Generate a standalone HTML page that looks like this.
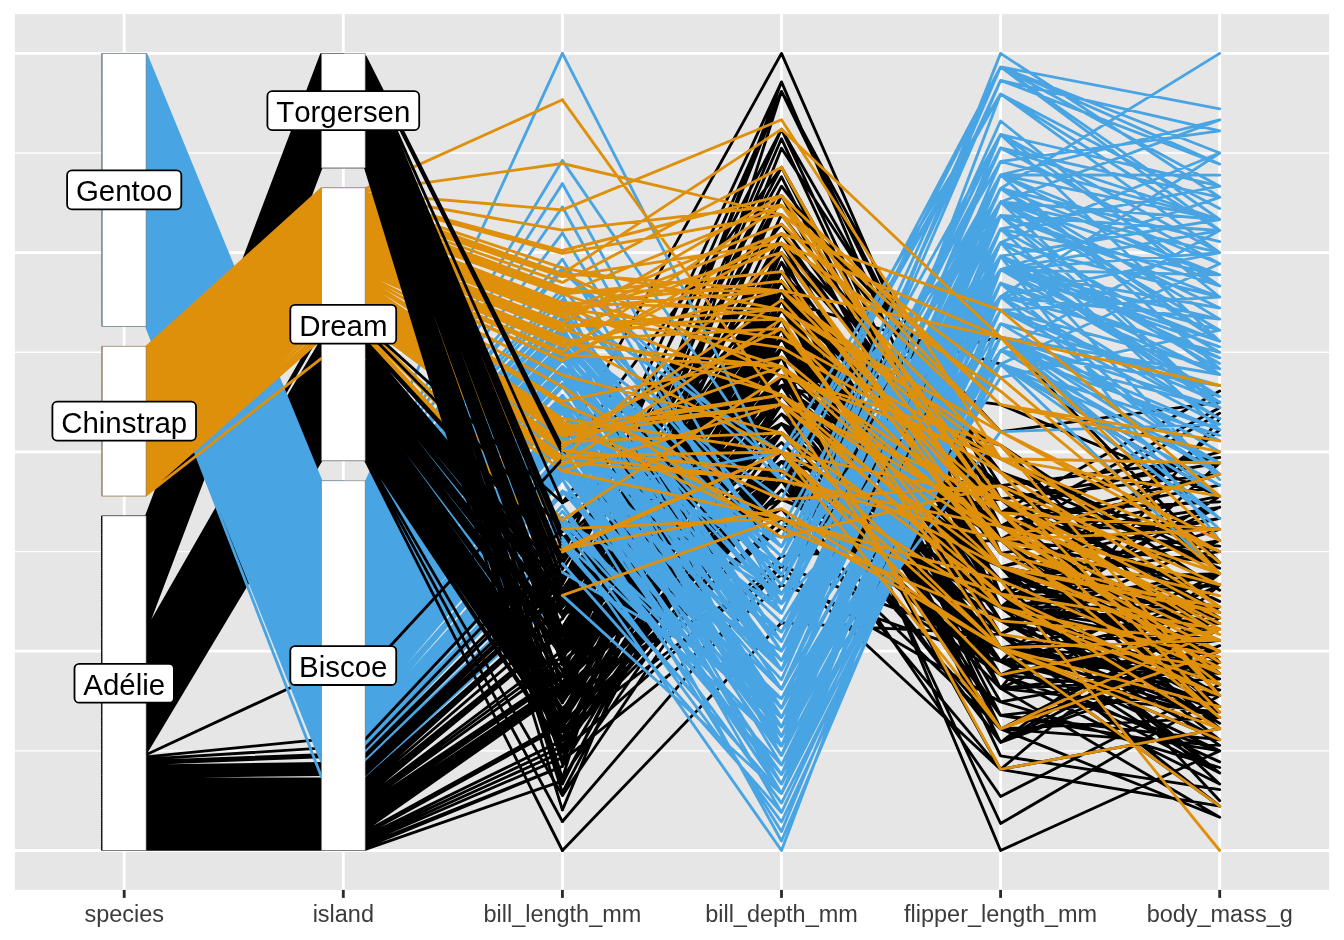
<!DOCTYPE html>
<html><head><meta charset="utf-8"><title>penguins pcp</title>
<style>html,body{margin:0;padding:0;background:#fff;}body{width:1344px;height:940px;overflow:hidden;font-family:"Liberation Sans",sans-serif;}svg{display:block;will-change:transform;}</style>
</head><body>
<svg width="1344" height="940" viewBox="0 0 1344 940">
<rect x="0" y="0" width="1344" height="940" fill="#fff"/>
<rect x="14.9" y="14.1" width="1314.2" height="875.8" fill="#E6E6E6"/>
<g stroke="#fff" fill="none"><path d="M14.9 750.9H1329.1" stroke-width="1.42"/><path d="M14.9 551.6H1329.1" stroke-width="1.42"/><path d="M14.9 352.3H1329.1" stroke-width="1.42"/><path d="M14.9 153H1329.1" stroke-width="1.42"/><path d="M14.9 850.5H1329.1" stroke-width="2.84"/><path d="M14.9 651.2H1329.1" stroke-width="2.84"/><path d="M14.9 451.9H1329.1" stroke-width="2.84"/><path d="M14.9 252.7H1329.1" stroke-width="2.84"/><path d="M14.9 53.4H1329.1" stroke-width="2.84"/><path d="M124.2 14.1V889.9" stroke-width="2.84"/><path d="M343.3 14.1V889.9" stroke-width="2.84"/><path d="M562.4 14.1V889.9" stroke-width="2.84"/><path d="M781.5 14.1V889.9" stroke-width="2.84"/><path d="M1000.6 14.1V889.9" stroke-width="2.84"/><path d="M1219.7 14.1V889.9" stroke-width="2.84"/></g>
<path fill="none" stroke="#000000" stroke-width="2.84" stroke-linecap="round" stroke-linejoin="round" d="M102.3 569.8H146.1L321.4 107.3H343.3M102.3 563.2H146.1L321.4 100.7H343.3M102.3 554.4H146.1L321.4 91.9H343.3M102.3 517H146.1L321.4 54.5H343.3M102.3 598.5H146.1L321.4 135.9H343.3M102.3 565.4H146.1L321.4 102.9H343.3M102.3 574.2H146.1L321.4 111.7H343.3M102.3 567.6H146.1L321.4 105.1H343.3M102.3 627.1H146.1L321.4 164.6H343.3M102.3 536.8H146.1L321.4 74.3H343.3M102.3 589.6H146.1L321.4 127.1H343.3M102.3 587.4H146.1L321.4 124.9H343.3M102.3 547.8H146.1L321.4 85.3H343.3M102.3 580.8H146.1L321.4 118.3H343.3M102.3 620.5H146.1L321.4 158H343.3M102.3 602.9H146.1L321.4 140.4H343.3M102.3 578.6H146.1L321.4 116.1H343.3M102.3 532.4H146.1L321.4 69.9H343.3M102.3 624.9H146.1L321.4 162.4H343.3M102.3 519.2H146.1L321.4 56.7H343.3M102.3 820.8H146.1L321.4 820.8H343.3M102.3 823H146.1L321.4 823H343.3M102.3 836.2H146.1L321.4 836.2H343.3M102.3 807.6H146.1L321.4 807.6H343.3M102.3 801H146.1L321.4 801H343.3M102.3 842.8H146.1L321.4 842.8H343.3M102.3 781.2H146.1L321.4 781.2H343.3M102.3 785.6H146.1L321.4 785.6H343.3M102.3 816.4H146.1L321.4 816.4H343.3M102.3 783.4H146.1L321.4 783.4H343.3M102.3 679.9H146.1L321.4 387H343.3M102.3 712.9H146.1L321.4 420H343.3M102.3 677.7H146.1L321.4 384.8H343.3M102.3 651.3H146.1L321.4 356.2H343.3M102.3 728.3H146.1L321.4 435.4H343.3M102.3 682.1H146.1L321.4 389.2H343.3M102.3 690.9H146.1L321.4 398H343.3M102.3 638.1H146.1L321.4 343H343.3M102.3 701.9H146.1L321.4 409H343.3M102.3 668.9H146.1L321.4 376H343.3M102.3 726.1H146.1L321.4 433.2H343.3M102.3 655.7H146.1L321.4 362.8H343.3M102.3 734.9H146.1L321.4 442H343.3M102.3 631.5H146.1L321.4 325.4H343.3M102.3 715.1H146.1L321.4 422.2H343.3M102.3 673.3H146.1L321.4 380.4H343.3M102.3 644.7H146.1L321.4 349.6H343.3M102.3 704.1H146.1L321.4 411.2H343.3M102.3 737.1H146.1L321.4 444.2H343.3M102.3 635.9H146.1L321.4 340.8H343.3M102.3 796.6H146.1L321.4 796.6H343.3M102.3 787.8H146.1L321.4 787.8H343.3M102.3 847.2H146.1L321.4 847.2H343.3M102.3 763.5H146.1L321.4 756.9H343.3M102.3 849.4H146.1L321.4 849.4H343.3M102.3 768H146.1L321.4 765.8H343.3M102.3 798.8H146.1L321.4 798.8H343.3M102.3 779H146.1L321.4 779H343.3M102.3 831.8H146.1L321.4 831.8H343.3M102.3 827.4H146.1L321.4 827.4H343.3M102.3 838.4H146.1L321.4 838.4H343.3M102.3 770.2H146.1L321.4 768H343.3M102.3 829.6H146.1L321.4 829.6H343.3M102.3 774.6H146.1L321.4 772.4H343.3M102.3 834H146.1L321.4 834H343.3M102.3 765.8H146.1L321.4 763.5H343.3M102.3 840.6H146.1L321.4 840.6H343.3M102.3 772.4H146.1L321.4 770.2H343.3M102.3 609.5H146.1L321.4 147H343.3M102.3 539H146.1L321.4 76.5H343.3M102.3 629.3H146.1L321.4 166.8H343.3M102.3 558.8H146.1L321.4 96.3H343.3M102.3 561H146.1L321.4 98.5H343.3M102.3 521.4H146.1L321.4 58.9H343.3M102.3 613.9H146.1L321.4 151.4H343.3M102.3 530.2H146.1L321.4 67.7H343.3M102.3 550H146.1L321.4 87.5H343.3M102.3 596.3H146.1L321.4 133.7H343.3M102.3 607.3H146.1L321.4 144.8H343.3M102.3 534.6H146.1L321.4 72.1H343.3M102.3 622.7H146.1L321.4 160.2H343.3M102.3 528H146.1L321.4 65.5H343.3M102.3 600.7H146.1L321.4 138.1H343.3M102.3 618.3H146.1L321.4 155.8H343.3M102.3 708.5H146.1L321.4 415.6H343.3M102.3 642.5H146.1L321.4 347.4H343.3M102.3 730.5H146.1L321.4 437.6H343.3M102.3 719.5H146.1L321.4 426.6H343.3M102.3 693.1H146.1L321.4 400.2H343.3M102.3 688.7H146.1L321.4 395.8H343.3M102.3 743.7H146.1L321.4 450.8H343.3M102.3 646.9H146.1L321.4 351.8H343.3M102.3 748.1H146.1L321.4 455.3H343.3M102.3 675.5H146.1L321.4 382.6H343.3M102.3 732.7H146.1L321.4 439.8H343.3M102.3 653.5H146.1L321.4 360.6H343.3M102.3 695.3H146.1L321.4 402.4H343.3M102.3 662.3H146.1L321.4 369.4H343.3M102.3 750.3H146.1L321.4 457.5H343.3M102.3 633.7H146.1L321.4 329.8H343.3M102.3 845H146.1L321.4 845H343.3M102.3 776.8H146.1L321.4 774.6H343.3M102.3 825.2H146.1L321.4 825.2H343.3M102.3 818.6H146.1L321.4 818.6H343.3M102.3 814.2H146.1L321.4 814.2H343.3M102.3 790H146.1L321.4 790H343.3M102.3 803.2H146.1L321.4 803.2H343.3M102.3 805.4H146.1L321.4 805.4H343.3M102.3 809.8H146.1L321.4 809.8H343.3M102.3 756.9H146.1L321.4 739.3H343.3M102.3 812H146.1L321.4 812H343.3M102.3 754.7H146.1L321.4 673.3H343.3M102.3 792.2H146.1L321.4 792.2H343.3M102.3 761.3H146.1L321.4 754.7H343.3M102.3 794.4H146.1L321.4 794.4H343.3M102.3 759.1H146.1L321.4 748.1H343.3M102.3 583H146.1L321.4 120.5H343.3M102.3 594H146.1L321.4 131.5H343.3M102.3 611.7H146.1L321.4 149.2H343.3M102.3 545.6H146.1L321.4 83.1H343.3M102.3 605.1H146.1L321.4 142.6H343.3M102.3 591.8H146.1L321.4 129.3H343.3M102.3 556.6H146.1L321.4 94.1H343.3M102.3 543.4H146.1L321.4 80.9H343.3M102.3 616.1H146.1L321.4 153.6H343.3M102.3 552.2H146.1L321.4 89.7H343.3M102.3 576.4H146.1L321.4 113.9H343.3M102.3 541.2H146.1L321.4 78.7H343.3M102.3 572H146.1L321.4 109.5H343.3M102.3 523.6H146.1L321.4 61.1H343.3M102.3 585.2H146.1L321.4 122.7H343.3M102.3 525.8H146.1L321.4 63.3H343.3M102.3 721.7H146.1L321.4 428.8H343.3M102.3 706.3H146.1L321.4 413.4H343.3M102.3 697.5H146.1L321.4 404.6H343.3M102.3 649.1H146.1L321.4 354H343.3M102.3 745.9H146.1L321.4 453.1H343.3M102.3 664.5H146.1L321.4 371.6H343.3M102.3 717.3H146.1L321.4 424.4H343.3M102.3 671.1H146.1L321.4 378.2H343.3M102.3 666.7H146.1L321.4 373.8H343.3M102.3 660.1H146.1L321.4 367.2H343.3M102.3 752.5H146.1L321.4 459.7H343.3M102.3 657.9H146.1L321.4 365H343.3M102.3 710.7H146.1L321.4 417.8H343.3M102.3 686.5H146.1L321.4 393.6H343.3M102.3 684.3H146.1L321.4 391.4H343.3M102.3 723.9H146.1L321.4 431H343.3M102.3 739.3H146.1L321.4 446.4H343.3M102.3 699.7H146.1L321.4 406.8H343.3M102.3 741.5H146.1L321.4 448.6H343.3M102.3 640.3H146.1L321.4 345.2H343.3"/>
<path fill="none" stroke="#48A4E3" stroke-width="2.84" stroke-linecap="round" stroke-linejoin="round" d="M102.3 237.2H146.1L321.4 664.5H343.3M102.3 105.1H146.1L321.4 532.4H343.3M102.3 151.4H146.1L321.4 578.6H343.3M102.3 111.7H146.1L321.4 539H343.3M102.3 177.8H146.1L321.4 605.1H343.3M102.3 217.4H146.1L321.4 644.7H343.3M102.3 254.8H146.1L321.4 684.3H343.3M102.3 206.4H146.1L321.4 633.7H343.3M102.3 307.6H146.1L321.4 737.1H343.3M102.3 202H146.1L321.4 629.3H343.3M102.3 325.3H146.1L321.4 776.8H343.3M102.3 142.6H146.1L321.4 569.8H343.3M102.3 252.6H146.1L321.4 682.1H343.3M102.3 162.4H146.1L321.4 589.6H343.3M102.3 239.4H146.1L321.4 666.7H343.3M102.3 131.5H146.1L321.4 558.8H343.3M102.3 320.9H146.1L321.4 759.1H343.3M102.3 133.7H146.1L321.4 561H343.3M102.3 228.4H146.1L321.4 655.7H343.3M102.3 149.2H146.1L321.4 576.4H343.3M102.3 100.7H146.1L321.4 528H343.3M102.3 270.2H146.1L321.4 699.7H343.3M102.3 213H146.1L321.4 640.3H343.3M102.3 224H146.1L321.4 651.3H343.3M102.3 312.1H146.1L321.4 743.7H343.3M102.3 235H146.1L321.4 662.3H343.3M102.3 287.8H146.1L321.4 717.3H343.3M102.3 173.4H146.1L321.4 600.7H343.3M102.3 169H146.1L321.4 596.3H343.3M102.3 109.5H146.1L321.4 536.8H343.3M102.3 188.8H146.1L321.4 616.1H343.3M102.3 314.3H146.1L321.4 745.9H343.3M102.3 272.4H146.1L321.4 701.9H343.3M102.3 56.7H146.1L321.4 484H343.3M102.3 138.1H146.1L321.4 565.4H343.3M102.3 160.2H146.1L321.4 587.4H343.3M102.3 318.7H146.1L321.4 752.5H343.3M102.3 290H146.1L321.4 719.5H343.3M102.3 292.2H146.1L321.4 721.7H343.3M102.3 147H146.1L321.4 574.2H343.3M102.3 316.5H146.1L321.4 750.3H343.3M102.3 120.5H146.1L321.4 547.8H343.3M102.3 259.2H146.1L321.4 688.7H343.3M102.3 122.7H146.1L321.4 550H343.3M102.3 91.9H146.1L321.4 519.2H343.3M102.3 296.6H146.1L321.4 726.1H343.3M102.3 250.4H146.1L321.4 679.9H343.3M102.3 89.7H146.1L321.4 517H343.3M102.3 281.2H146.1L321.4 710.7H343.3M102.3 263.6H146.1L321.4 693.1H343.3M102.3 208.6H146.1L321.4 635.9H343.3M102.3 158H146.1L321.4 585.2H343.3M102.3 274.6H146.1L321.4 704.1H343.3M102.3 102.9H146.1L321.4 530.2H343.3M102.3 215.2H146.1L321.4 642.5H343.3M102.3 276.8H146.1L321.4 706.3H343.3M102.3 294.4H146.1L321.4 723.9H343.3M102.3 246H146.1L321.4 675.5H343.3M102.3 309.9H146.1L321.4 741.5H343.3M102.3 98.5H146.1L321.4 525.8H343.3M102.3 257H146.1L321.4 686.5H343.3M102.3 226.2H146.1L321.4 653.5H343.3M102.3 243.8H146.1L321.4 671.1H343.3M102.3 63.3H146.1L321.4 490.6H343.3M102.3 241.6H146.1L321.4 668.9H343.3M102.3 116.1H146.1L321.4 543.4H343.3M102.3 230.6H146.1L321.4 657.9H343.3M102.3 124.9H146.1L321.4 552.2H343.3M102.3 301H146.1L321.4 730.5H343.3M102.3 87.5H146.1L321.4 514.8H343.3M102.3 175.6H146.1L321.4 602.9H343.3M102.3 219.6H146.1L321.4 646.9H343.3M102.3 166.8H146.1L321.4 594H343.3M102.3 210.8H146.1L321.4 638.1H343.3M102.3 221.8H146.1L321.4 649.1H343.3M102.3 153.6H146.1L321.4 580.8H343.3M102.3 182.2H146.1L321.4 609.5H343.3M102.3 80.9H146.1L321.4 508.2H343.3M102.3 268H146.1L321.4 697.5H343.3M102.3 261.4H146.1L321.4 690.9H343.3M102.3 140.4H146.1L321.4 567.6H343.3M102.3 67.7H146.1L321.4 495H343.3M102.3 186.6H146.1L321.4 613.9H343.3M102.3 107.3H146.1L321.4 534.6H343.3M102.3 279H146.1L321.4 708.5H343.3M102.3 83.1H146.1L321.4 510.4H343.3M102.3 303.2H146.1L321.4 732.7H343.3M102.3 76.5H146.1L321.4 503.8H343.3M102.3 184.4H146.1L321.4 611.7H343.3M102.3 72.1H146.1L321.4 499.4H343.3M102.3 180H146.1L321.4 607.3H343.3M102.3 69.9H146.1L321.4 497.2H343.3M102.3 248.2H146.1L321.4 677.7H343.3M102.3 127.1H146.1L321.4 554.4H343.3M102.3 285.6H146.1L321.4 715.1H343.3M102.3 85.3H146.1L321.4 512.6H343.3M102.3 129.3H146.1L321.4 556.6H343.3M102.3 197.6H146.1L321.4 624.9H343.3M102.3 164.6H146.1L321.4 591.8H343.3M102.3 78.7H146.1L321.4 506H343.3M102.3 155.8H146.1L321.4 583H343.3M102.3 58.9H146.1L321.4 486.2H343.3M102.3 193.2H146.1L321.4 620.5H343.3M102.3 135.9H146.1L321.4 563.2H343.3M102.3 191H146.1L321.4 618.3H343.3M102.3 199.8H146.1L321.4 627.1H343.3M102.3 323.1H146.1L321.4 761.3H343.3M102.3 65.5H146.1L321.4 492.8H343.3M102.3 305.4H146.1L321.4 734.9H343.3M102.3 171.2H146.1L321.4 598.5H343.3M102.3 94.1H146.1L321.4 521.4H343.3M102.3 118.3H146.1L321.4 545.6H343.3M102.3 298.8H146.1L321.4 728.3H343.3M102.3 74.3H146.1L321.4 501.6H343.3M102.3 232.8H146.1L321.4 660.1H343.3M102.3 61.1H146.1L321.4 488.4H343.3M102.3 283.4H146.1L321.4 712.9H343.3M102.3 144.8H146.1L321.4 572H343.3M102.3 195.4H146.1L321.4 622.7H343.3M102.3 54.5H146.1L321.4 481.8H343.3M102.3 204.2H146.1L321.4 631.5H343.3M102.3 96.3H146.1L321.4 523.6H343.3M102.3 265.8H146.1L321.4 695.3H343.3M102.3 113.9H146.1L321.4 541.2H343.3"/>
<path fill="none" stroke="#DF900A" stroke-width="2.84" stroke-linecap="round" stroke-linejoin="round" d="M102.3 453.1H146.1L321.4 294.6H343.3M102.3 413.4H146.1L321.4 254.9H343.3M102.3 380.4H146.1L321.4 221.9H343.3M102.3 477.3H146.1L321.4 318.8H343.3M102.3 358.4H146.1L321.4 199.9H343.3M102.3 479.5H146.1L321.4 321H343.3M102.3 461.9H146.1L321.4 303.4H343.3M102.3 382.6H146.1L321.4 224.1H343.3M102.3 464.1H146.1L321.4 305.6H343.3M102.3 378.2H146.1L321.4 219.7H343.3M102.3 450.8H146.1L321.4 292.4H343.3M102.3 371.6H146.1L321.4 213.1H343.3M102.3 442H146.1L321.4 283.6H343.3M102.3 367.2H146.1L321.4 208.7H343.3M102.3 466.3H146.1L321.4 307.8H343.3M102.3 400.2H146.1L321.4 241.7H343.3M102.3 404.6H146.1L321.4 246.1H343.3M102.3 347.4H146.1L321.4 188.9H343.3M102.3 455.3H146.1L321.4 296.8H343.3M102.3 426.6H146.1L321.4 268.1H343.3M102.3 492.7H146.1L321.4 338.6H343.3M102.3 433.2H146.1L321.4 274.7H343.3M102.3 486.1H146.1L321.4 332H343.3M102.3 398H146.1L321.4 239.5H343.3M102.3 448.6H146.1L321.4 290.2H343.3M102.3 365H146.1L321.4 206.5H343.3M102.3 402.4H146.1L321.4 243.9H343.3M102.3 422.2H146.1L321.4 263.7H343.3M102.3 457.5H146.1L321.4 299H343.3M102.3 356.2H146.1L321.4 197.7H343.3M102.3 494.9H146.1L321.4 358.4H343.3M102.3 351.8H146.1L321.4 193.3H343.3M102.3 490.5H146.1L321.4 336.4H343.3M102.3 384.8H146.1L321.4 226.3H343.3M102.3 417.8H146.1L321.4 259.3H343.3M102.3 439.8H146.1L321.4 281.3H343.3M102.3 437.6H146.1L321.4 279.1H343.3M102.3 362.8H146.1L321.4 204.3H343.3M102.3 444.2H146.1L321.4 285.8H343.3M102.3 354H146.1L321.4 195.5H343.3M102.3 431H146.1L321.4 272.5H343.3M102.3 459.7H146.1L321.4 301.2H343.3M102.3 387H146.1L321.4 228.5H343.3M102.3 475.1H146.1L321.4 316.6H343.3M102.3 389.2H146.1L321.4 230.7H343.3M102.3 393.6H146.1L321.4 235.1H343.3M102.3 411.2H146.1L321.4 252.7H343.3M102.3 428.8H146.1L321.4 270.3H343.3M102.3 373.8H146.1L321.4 215.3H343.3M102.3 415.6H146.1L321.4 257.1H343.3M102.3 435.4H146.1L321.4 276.9H343.3M102.3 376H146.1L321.4 217.5H343.3M102.3 468.5H146.1L321.4 310H343.3M102.3 395.8H146.1L321.4 237.3H343.3M102.3 488.3H146.1L321.4 334.2H343.3M102.3 360.6H146.1L321.4 202.1H343.3M102.3 481.7H146.1L321.4 323.2H343.3M102.3 424.4H146.1L321.4 265.9H343.3M102.3 406.8H146.1L321.4 248.3H343.3M102.3 472.9H146.1L321.4 314.4H343.3M102.3 369.4H146.1L321.4 210.9H343.3M102.3 446.4H146.1L321.4 288H343.3M102.3 470.7H146.1L321.4 312.2H343.3M102.3 349.6H146.1L321.4 191.1H343.3M102.3 483.9H146.1L321.4 327.6H343.3M102.3 420H146.1L321.4 261.5H343.3M102.3 391.4H146.1L321.4 232.9H343.3M102.3 409H146.1L321.4 250.5H343.3"/>
<path fill="none" stroke="#48A4E3" stroke-width="2.84" stroke-linecap="round" stroke-linejoin="round" d="M343.3 664.5H365.2L562.4 444.7M343.3 532.4H365.2L562.4 331.7M343.3 578.6H365.2L562.4 369.3M343.3 539H365.2L562.4 331.7M343.3 605.1H365.2L562.4 401.2M343.3 644.7H365.2L562.4 433.1M343.3 684.3H365.2L562.4 465M343.3 633.7H365.2L562.4 427.3M343.3 737.1H365.2L562.4 525.9M343.3 629.3H365.2L562.4 424.4M343.3 776.8H365.2L562.4 595.4M343.3 569.8H365.2L562.4 360.6M343.3 682.1H365.2L562.4 462.1M343.3 589.6H365.2L562.4 378M343.3 666.7H365.2L562.4 453.4M343.3 558.8H365.2L562.4 352M343.3 759.1H365.2L562.4 563.5M343.3 561H365.2L562.4 354.8M343.3 655.7H365.2L562.4 441.8M343.3 576.4H365.2L562.4 369.3M343.3 528H365.2L562.4 325.9M343.3 699.7H365.2L562.4 473.7M343.3 640.3H365.2L562.4 433.1M343.3 651.3H365.2L562.4 438.9M343.3 743.7H365.2L562.4 537.5M343.3 662.3H365.2L562.4 444.7M343.3 717.3H365.2L562.4 491.1M343.3 600.7H365.2L562.4 395.4M343.3 596.3H365.2L562.4 383.8M343.3 536.8H365.2L562.4 331.7M343.3 616.1H365.2L562.4 409.9M343.3 745.9H365.2L562.4 540.4M343.3 701.9H365.2L562.4 473.7M343.3 484H365.2L562.4 53.4M343.3 565.4H365.2L562.4 357.7M343.3 587.4H365.2L562.4 378M343.3 752.5H365.2L562.4 546.2M343.3 719.5H365.2L562.4 494M343.3 721.7H365.2L562.4 505.6M343.3 574.2H365.2L562.4 369.3M343.3 750.3H365.2L562.4 543.3M343.3 547.8H365.2L562.4 343.3M343.3 688.7H365.2L562.4 467.9M343.3 550H365.2L562.4 343.3M343.3 519.2H365.2L562.4 317.2M343.3 726.1H365.2L562.4 517.2M343.3 679.9H365.2L562.4 462.1M343.3 517H365.2L562.4 317.2M343.3 710.7H365.2L562.4 479.5M343.3 693.1H365.2L562.4 470.8M343.3 635.9H365.2L562.4 430.2M343.3 585.2H365.2L562.4 375.1M343.3 704.1H365.2L562.4 473.7M343.3 530.2H365.2L562.4 328.8M343.3 642.5H365.2L562.4 433.1M343.3 706.3H365.2L562.4 476.6M343.3 723.9H365.2L562.4 511.4M343.3 675.5H365.2L562.4 462.1M343.3 741.5H365.2L562.4 528.8M343.3 525.8H365.2L562.4 320.1M343.3 686.5H365.2L562.4 467.9M343.3 653.5H365.2L562.4 441.8M343.3 671.1H365.2L562.4 456.3M343.3 490.6H365.2L562.4 207M343.3 668.9H365.2L562.4 453.4M343.3 543.4H365.2L562.4 337.5M343.3 657.9H365.2L562.4 441.8M343.3 552.2H365.2L562.4 346.2M343.3 730.5H365.2L562.4 520.1M343.3 514.8H365.2L562.4 311.4M343.3 602.9H365.2L562.4 398.3M343.3 646.9H365.2L562.4 436M343.3 594H365.2L562.4 383.8M343.3 638.1H365.2L562.4 433.1M343.3 649.1H365.2L562.4 436M343.3 580.8H365.2L562.4 372.2M343.3 609.5H365.2L562.4 404.1M343.3 508.2H365.2L562.4 299.8M343.3 697.5H365.2L562.4 470.8M343.3 690.9H365.2L562.4 470.8M343.3 567.6H365.2L562.4 357.7M343.3 495H365.2L562.4 259.2M343.3 613.9H365.2L562.4 407M343.3 534.6H365.2L562.4 331.7M343.3 708.5H365.2L562.4 479.5M343.3 510.4H365.2L562.4 308.5M343.3 732.7H365.2L562.4 523M343.3 503.8H365.2L562.4 294M343.3 611.7H365.2L562.4 404.1M343.3 499.4H365.2L562.4 270.8M343.3 607.3H365.2L562.4 404.1M343.3 497.2H365.2L562.4 267.9M343.3 677.7H365.2L562.4 462.1M343.3 554.4H365.2L562.4 346.2M343.3 715.1H365.2L562.4 491.1M343.3 512.6H365.2L562.4 308.5M343.3 556.6H365.2L562.4 349.1M343.3 624.9H365.2L562.4 421.5M343.3 591.8H365.2L562.4 378M343.3 506H365.2L562.4 299.8M343.3 583H365.2L562.4 375.1M343.3 486.2H365.2L562.4 160.6M343.3 620.5H365.2L562.4 412.8M343.3 563.2H365.2L562.4 357.7M343.3 618.3H365.2L562.4 409.9M343.3 627.1H365.2L562.4 424.4M343.3 761.3H365.2L562.4 572.2M343.3 492.8H365.2L562.4 233.1M343.3 734.9H365.2L562.4 525.9M343.3 598.5H365.2L562.4 386.7M343.3 521.4H365.2L562.4 317.2M343.3 545.6H365.2L562.4 337.5M343.3 728.3H365.2L562.4 520.1M343.3 501.6H365.2L562.4 288.2M343.3 660.1H365.2L562.4 441.8M343.3 488.4H365.2L562.4 183.8M343.3 712.9H365.2L562.4 491.1M343.3 572H365.2L562.4 366.4M343.3 622.7H365.2L562.4 412.8M343.3 631.5H365.2L562.4 424.4M343.3 523.6H365.2L562.4 320.1M343.3 695.3H365.2L562.4 470.8M343.3 541.2H365.2L562.4 334.6"/>
<path fill="none" stroke="#DF900A" stroke-width="2.84" stroke-linecap="round" stroke-linejoin="round" d="M343.3 294.6H365.2L562.4 433.1M343.3 254.9H365.2L562.4 331.7M343.3 221.9H365.2L562.4 294M343.3 318.8H365.2L562.4 465M343.3 199.9H365.2L562.4 253.4M343.3 321H365.2L562.4 470.8M343.3 303.4H365.2L562.4 444.7M343.3 224.1H365.2L562.4 294M343.3 305.6H365.2L562.4 447.6M343.3 219.7H365.2L562.4 294M343.3 292.4H365.2L562.4 430.2M343.3 213.1H365.2L562.4 282.4M343.3 283.6H365.2L562.4 418.6M343.3 208.7H365.2L562.4 273.7M343.3 307.8H365.2L562.4 450.5M343.3 241.7H365.2L562.4 317.2M343.3 246.1H365.2L562.4 323M343.3 188.9H365.2L562.4 99.8M343.3 296.8H365.2L562.4 436M343.3 268.1H365.2L562.4 354.8M343.3 338.6H365.2L562.4 551.9M343.3 274.7H365.2L562.4 375.1M343.3 332H365.2L562.4 528.8M343.3 239.5H365.2L562.4 314.3M343.3 290.2H365.2L562.4 427.3M343.3 206.5H365.2L562.4 273.7M343.3 243.9H365.2L562.4 317.2M343.3 263.7H365.2L562.4 346.2M343.3 299H365.2L562.4 436M343.3 197.7H365.2L562.4 250.5M343.3 358.4H365.2L562.4 595.4M343.3 193.3H365.2L562.4 209.9M343.3 336.4H365.2L562.4 549.1M343.3 226.3H365.2L562.4 302.7M343.3 259.3H365.2L562.4 340.4M343.3 281.3H365.2L562.4 404.1M343.3 279.1H365.2L562.4 401.2M343.3 204.3H365.2L562.4 273.7M343.3 285.8H365.2L562.4 421.5M343.3 195.5H365.2L562.4 230.2M343.3 272.5H365.2L562.4 360.6M343.3 301.2H365.2L562.4 441.8M343.3 228.5H365.2L562.4 305.6M343.3 316.6H365.2L562.4 462.1M343.3 230.7H365.2L562.4 305.6M343.3 235.1H365.2L562.4 308.5M343.3 252.7H365.2L562.4 328.8M343.3 270.3H365.2L562.4 360.6M343.3 215.3H365.2L562.4 288.2M343.3 257.1H365.2L562.4 337.5M343.3 276.9H365.2L562.4 386.7M343.3 217.5H365.2L562.4 291.1M343.3 310H365.2L562.4 456.3M343.3 237.3H365.2L562.4 311.4M343.3 334.2H365.2L562.4 549.1M343.3 202.1H365.2L562.4 267.9M343.3 323.2H365.2L562.4 470.8M343.3 265.9H365.2L562.4 352M343.3 248.3H365.2L562.4 325.9M343.3 314.4H365.2L562.4 459.2M343.3 210.9H365.2L562.4 276.6M343.3 288H365.2L562.4 424.4M343.3 312.2H365.2L562.4 456.3M343.3 191.1H365.2L562.4 163.5M343.3 327.6H365.2L562.4 520.1M343.3 261.5H365.2L562.4 343.3M343.3 232.9H365.2L562.4 308.5M343.3 250.5H365.2L562.4 325.9"/>
<path fill="none" stroke="#000000" stroke-width="2.84" stroke-linecap="round" stroke-linejoin="round" d="M343.3 387H365.2L562.4 636M343.3 420H365.2L562.4 702.7M343.3 384.8H365.2L562.4 636M343.3 356.2H365.2L562.4 595.4M343.3 435.4H365.2L562.4 725.9M343.3 389.2H365.2L562.4 644.7M343.3 398H365.2L562.4 656.3M343.3 343H365.2L562.4 557.7M343.3 409H365.2L562.4 691.1M343.3 376H365.2L562.4 627.3M343.3 433.2H365.2L562.4 723M343.3 362.8H365.2L562.4 598.3M343.3 442H365.2L562.4 737.5M343.3 325.4H365.2L562.4 502.7M343.3 422.2H365.2L562.4 708.5M343.3 380.4H365.2L562.4 633.1M343.3 349.6H365.2L562.4 589.6M343.3 411.2H365.2L562.4 694M343.3 444.2H365.2L562.4 737.5M343.3 340.8H365.2L562.4 554.8M343.3 415.6H365.2L562.4 699.8M343.3 347.4H365.2L562.4 583.8M343.3 437.6H365.2L562.4 728.8M343.3 426.6H365.2L562.4 711.4M343.3 400.2H365.2L562.4 670.8M343.3 395.8H365.2L562.4 653.4M343.3 450.8H365.2L562.4 746.2M343.3 351.8H365.2L562.4 589.6M343.3 455.3H365.2L562.4 795.4M343.3 382.6H365.2L562.4 633.1M343.3 439.8H365.2L562.4 731.7M343.3 360.6H365.2L562.4 598.3M343.3 402.4H365.2L562.4 676.6M343.3 369.4H365.2L562.4 612.8M343.3 457.5H365.2L562.4 821.5M343.3 329.8H365.2L562.4 528.8M343.3 428.8H365.2L562.4 714.3M343.3 413.4H365.2L562.4 694M343.3 404.6H365.2L562.4 676.6M343.3 354H365.2L562.4 589.6M343.3 453.1H365.2L562.4 749.1M343.3 371.6H365.2L562.4 615.7M343.3 424.4H365.2L562.4 708.5M343.3 378.2H365.2L562.4 630.2M343.3 373.8H365.2L562.4 615.7M343.3 367.2H365.2L562.4 604.1M343.3 459.7H365.2L562.4 850.5M343.3 365H365.2L562.4 601.2M343.3 417.8H365.2L562.4 699.8M343.3 393.6H365.2L562.4 650.5M343.3 391.4H365.2L562.4 644.7M343.3 431H365.2L562.4 720.1M343.3 446.4H365.2L562.4 737.5M343.3 406.8H365.2L562.4 685.3M343.3 448.6H365.2L562.4 737.5M343.3 345.2H365.2L562.4 578"/>
<path fill="none" stroke="#000000" stroke-width="2.84" stroke-linecap="round" stroke-linejoin="round" d="M343.3 107.3H365.2L562.4 647.6M343.3 100.7H365.2L562.4 636M343.3 91.9H365.2L562.4 612.8M343.3 135.9H365.2L562.4 717.2M343.3 102.9H365.2L562.4 641.8M343.3 111.7H365.2L562.4 653.4M343.3 105.1H365.2L562.4 644.7M343.3 164.6H365.2L562.4 792.5M343.3 74.3H365.2L562.4 563.5M343.3 127.1H365.2L562.4 685.3M343.3 124.9H365.2L562.4 685.3M343.3 85.3H365.2L562.4 589.6M343.3 118.3H365.2L562.4 662.1M343.3 158H365.2L562.4 778M343.3 140.4H365.2L562.4 720.1M343.3 116.1H365.2L562.4 659.2M343.3 69.9H365.2L562.4 549.1M343.3 162.4H365.2L562.4 783.8M343.3 56.7H365.2L562.4 447.6M343.3 147H365.2L562.4 740.4M343.3 76.5H365.2L562.4 569.3M343.3 166.8H365.2L562.4 809.9M343.3 96.3H365.2L562.4 630.2M343.3 98.5H365.2L562.4 633.1M343.3 58.9H365.2L562.4 453.4M343.3 151.4H365.2L562.4 751.9M343.3 67.7H365.2L562.4 540.4M343.3 87.5H365.2L562.4 595.4M343.3 133.7H365.2L562.4 702.7M343.3 144.8H365.2L562.4 731.7M343.3 72.1H365.2L562.4 560.6M343.3 160.2H365.2L562.4 778M343.3 65.5H365.2L562.4 537.5M343.3 138.1H365.2L562.4 717.2M343.3 155.8H365.2L562.4 763.5M343.3 120.5H365.2L562.4 662.1M343.3 131.5H365.2L562.4 699.8M343.3 149.2H365.2L562.4 746.2M343.3 83.1H365.2L562.4 589.6M343.3 142.6H365.2L562.4 731.7M343.3 129.3H365.2L562.4 688.2M343.3 94.1H365.2L562.4 615.7M343.3 80.9H365.2L562.4 580.9M343.3 153.6H365.2L562.4 760.6M343.3 89.7H365.2L562.4 604.1M343.3 113.9H365.2L562.4 656.3M343.3 78.7H365.2L562.4 578M343.3 109.5H365.2L562.4 650.5M343.3 61.1H365.2L562.4 502.7M343.3 122.7H365.2L562.4 665M343.3 63.3H365.2L562.4 531.7"/>
<path fill="none" stroke="#000000" stroke-width="2.84" stroke-linecap="round" stroke-linejoin="round" d="M343.3 820.8H365.2L562.4 685.3M343.3 823H365.2L562.4 688.2M343.3 836.2H365.2L562.4 740.4M343.3 807.6H365.2L562.4 673.7M343.3 801H365.2L562.4 656.3M343.3 842.8H365.2L562.4 757.7M343.3 781.2H365.2L562.4 604.1M343.3 785.6H365.2L562.4 607M343.3 816.4H365.2L562.4 682.4M343.3 783.4H365.2L562.4 607M343.3 796.6H365.2L562.4 633.1M343.3 787.8H365.2L562.4 618.6M343.3 847.2H365.2L562.4 766.4M343.3 756.9H365.2L562.4 563.5M343.3 849.4H365.2L562.4 780.9M343.3 765.8H365.2L562.4 580.9M343.3 798.8H365.2L562.4 650.5M343.3 779H365.2L562.4 604.1M343.3 831.8H365.2L562.4 723M343.3 827.4H365.2L562.4 691.1M343.3 838.4H365.2L562.4 746.2M343.3 768H365.2L562.4 583.8M343.3 829.6H365.2L562.4 691.1M343.3 772.4H365.2L562.4 589.6M343.3 834H365.2L562.4 725.9M343.3 763.5H365.2L562.4 575.1M343.3 840.6H365.2L562.4 751.9M343.3 770.2H365.2L562.4 589.6M343.3 845H365.2L562.4 766.4M343.3 774.6H365.2L562.4 592.5M343.3 825.2H365.2L562.4 688.2M343.3 818.6H365.2L562.4 685.3M343.3 814.2H365.2L562.4 682.4M343.3 790H365.2L562.4 630.2M343.3 803.2H365.2L562.4 662.1M343.3 805.4H365.2L562.4 673.7M343.3 809.8H365.2L562.4 676.6M343.3 739.3H365.2L562.4 528.8M343.3 812H365.2L562.4 676.6M343.3 673.3H365.2L562.4 459.2M343.3 792.2H365.2L562.4 630.2M343.3 754.7H365.2L562.4 557.7M343.3 794.4H365.2L562.4 633.1M343.3 748.1H365.2L562.4 543.3"/>
<path fill="none" stroke="#000000" stroke-width="2.84" stroke-linecap="round" stroke-linejoin="round" d="M562.4 647.6L781.5 319.1L1000.6 728.9L1219.7 618M562.4 636L781.5 442.5L1000.6 661.4L1219.7 606.9M562.4 612.8L781.5 385.5L1000.6 539.8L1219.7 728.7M562.4 717.2L781.5 262.2L1000.6 566.8L1219.7 684.4M562.4 641.8L781.5 138.8L1000.6 607.3L1219.7 640.2M562.4 653.4L781.5 404.5L1000.6 728.9L1219.7 645.7M562.4 644.7L781.5 233.7L1000.6 539.8L1219.7 413.2M562.4 792.5L781.5 376L1000.6 566.8L1219.7 678.9M562.4 563.5L781.5 176.8L1000.6 607.3L1219.7 507.3M562.4 685.3L781.5 470.9L1000.6 661.4L1219.7 717.6M562.4 685.3L781.5 451.9L1000.6 742.4L1219.7 629.1M562.4 589.6L781.5 423.5L1000.6 715.4L1219.7 739.8M562.4 662.1L781.5 81.9L1000.6 593.8L1219.7 606.9M562.4 778L781.5 91.4L1000.6 499.2L1219.7 474.1M562.4 720.1L781.5 404.5L1000.6 674.9L1219.7 629.1M562.4 659.2L781.5 290.6L1000.6 539.8L1219.7 684.4M562.4 549.1L781.5 129.3L1000.6 512.7L1219.7 451.9M562.4 783.8L781.5 347.6L1000.6 688.4L1219.7 712.1M562.4 447.6L781.5 53.4L1000.6 553.3L1219.7 518.4M562.4 685.3L781.5 357.1L1000.6 823.5L1219.7 695.5M562.4 688.2L781.5 319.1L1000.6 742.4L1219.7 651.2M562.4 740.4L781.5 271.7L1000.6 620.8L1219.7 606.9M562.4 673.7L781.5 376L1000.6 674.9L1219.7 573.7M562.4 656.3L781.5 461.4L1000.6 742.4L1219.7 606.9M562.4 757.7L781.5 300.1L1000.6 647.8L1219.7 606.9M562.4 604.1L781.5 328.6L1000.6 701.9L1219.7 662.3M562.4 607L781.5 395L1000.6 647.8L1219.7 739.8M562.4 682.4L781.5 328.6L1000.6 850.5L1219.7 750.9M562.4 607L781.5 300.1L1000.6 742.4L1219.7 573.7M562.4 636L781.5 508.9L1000.6 769.4L1219.7 728.7M562.4 702.7L781.5 376L1000.6 769.4L1219.7 584.8M562.4 636L781.5 404.5L1000.6 634.3L1219.7 717.6M562.4 595.4L781.5 300.1L1000.6 688.4L1219.7 584.8M562.4 725.9L781.5 480.4L1000.6 539.8L1219.7 712.1M562.4 644.7L781.5 91.4L1000.6 526.3L1219.7 529.4M562.4 656.3L781.5 195.7L1000.6 607.3L1219.7 573.7M562.4 557.7L781.5 338.1L1000.6 742.4L1219.7 662.3M562.4 691.1L781.5 262.2L1000.6 728.9L1219.7 717.6M562.4 627.3L781.5 281.1L1000.6 688.4L1219.7 418.7M562.4 723L781.5 385.5L1000.6 715.4L1219.7 750.9M562.4 598.3L781.5 347.6L1000.6 539.8L1219.7 584.8M562.4 737.5L781.5 338.1L1000.6 661.4L1219.7 761.9M562.4 502.7L781.5 224.2L1000.6 526.3L1219.7 474.1M562.4 708.5L781.5 489.9L1000.6 674.9L1219.7 784.1M562.4 633.1L781.5 309.6L1000.6 607.3L1219.7 429.8M562.4 589.6L781.5 290.6L1000.6 715.4L1219.7 690M562.4 694L781.5 300.1L1000.6 755.9L1219.7 789.6M562.4 737.5L781.5 395L1000.6 607.3L1219.7 684.4M562.4 554.8L781.5 81.9L1000.6 593.8L1219.7 529.4M562.4 633.1L781.5 414L1000.6 661.4L1219.7 673.4M562.4 618.6L781.5 300.1L1000.6 634.3L1219.7 496.2M562.4 766.4L781.5 395L1000.6 607.3L1219.7 684.4M562.4 563.5L781.5 243.2L1000.6 472.2L1219.7 551.6M562.4 780.9L781.5 376L1000.6 647.8L1219.7 806.2M562.4 580.9L781.5 328.6L1000.6 593.8L1219.7 629.1M562.4 650.5L781.5 433L1000.6 661.4L1219.7 662.3M562.4 604.1L781.5 309.6L1000.6 566.8L1219.7 606.9M562.4 723L781.5 518.4L1000.6 728.9L1219.7 817.3M562.4 691.1L781.5 281.1L1000.6 553.3L1219.7 618M562.4 746.2L781.5 489.9L1000.6 674.9L1219.7 750.9M562.4 583.8L781.5 91.4L1000.6 539.8L1219.7 474.1M562.4 691.1L781.5 480.4L1000.6 674.9L1219.7 651.2M562.4 589.6L781.5 366.5L1000.6 580.3L1219.7 551.6M562.4 725.9L781.5 470.9L1000.6 688.4L1219.7 817.3M562.4 575.1L781.5 385.5L1000.6 580.3L1219.7 573.7M562.4 751.9L781.5 556.3L1000.6 539.8L1219.7 706.6M562.4 589.6L781.5 281.1L1000.6 634.3L1219.7 540.5M562.4 740.4L781.5 518.4L1000.6 607.3L1219.7 773M562.4 569.3L781.5 252.7L1000.6 499.2L1219.7 463M562.4 809.9L781.5 290.6L1000.6 607.3L1219.7 651.2M562.4 630.2L781.5 347.6L1000.6 607.3L1219.7 584.8M562.4 633.1L781.5 461.4L1000.6 526.3L1219.7 662.3M562.4 453.4L781.5 300.1L1000.6 512.7L1219.7 529.4M562.4 751.9L781.5 433L1000.6 607.3L1219.7 629.1M562.4 540.4L781.5 338.1L1000.6 539.8L1219.7 507.3M562.4 595.4L781.5 499.4L1000.6 593.8L1219.7 629.1M562.4 702.7L781.5 252.7L1000.6 688.4L1219.7 584.8M562.4 731.7L781.5 565.8L1000.6 647.8L1219.7 662.3M562.4 560.6L781.5 281.1L1000.6 539.8L1219.7 562.7M562.4 778L781.5 461.4L1000.6 620.8L1219.7 739.8M562.4 537.5L781.5 423.5L1000.6 526.3L1219.7 407.7M562.4 717.2L781.5 309.6L1000.6 647.8L1219.7 606.9M562.4 763.5L781.5 252.7L1000.6 566.8L1219.7 518.4M562.4 699.8L781.5 404.5L1000.6 593.8L1219.7 706.6M562.4 583.8L781.5 167.3L1000.6 553.3L1219.7 662.3M562.4 728.8L781.5 243.2L1000.6 607.3L1219.7 606.9M562.4 711.4L781.5 328.6L1000.6 620.8L1219.7 673.4M562.4 670.8L781.5 271.7L1000.6 620.8L1219.7 573.7M562.4 653.4L781.5 309.6L1000.6 607.3L1219.7 651.2M562.4 746.2L781.5 385.5L1000.6 445.2L1219.7 662.3M562.4 589.6L781.5 376L1000.6 404.7L1219.7 496.2M562.4 795.4L781.5 470.9L1000.6 674.9L1219.7 695.5M562.4 633.1L781.5 376L1000.6 661.4L1219.7 463M562.4 731.7L781.5 451.9L1000.6 647.8L1219.7 717.6M562.4 598.3L781.5 300.1L1000.6 364.1L1219.7 496.2M562.4 676.6L781.5 328.6L1000.6 607.3L1219.7 629.1M562.4 612.8L781.5 338.1L1000.6 526.3L1219.7 485.2M562.4 821.5L781.5 565.8L1000.6 769.4L1219.7 806.2M562.4 528.8L781.5 338.1L1000.6 580.3L1219.7 540.5M562.4 766.4L781.5 395L1000.6 580.3L1219.7 623.5M562.4 592.5L781.5 195.7L1000.6 431.7L1219.7 402.1M562.4 688.2L781.5 575.3L1000.6 701.9L1219.7 767.5M562.4 685.3L781.5 195.7L1000.6 607.3L1219.7 507.3M562.4 682.4L781.5 328.6L1000.6 566.8L1219.7 800.7M562.4 630.2L781.5 300.1L1000.6 688.4L1219.7 662.3M562.4 662.1L781.5 461.4L1000.6 485.7L1219.7 618M562.4 673.7L781.5 195.7L1000.6 607.3L1219.7 584.8M562.4 676.6L781.5 480.4L1000.6 728.9L1219.7 745.3M562.4 528.8L781.5 290.6L1000.6 512.7L1219.7 391.1M562.4 676.6L781.5 527.9L1000.6 499.2L1219.7 601.4M562.4 459.2L781.5 167.3L1000.6 593.8L1219.7 429.8M562.4 630.2L781.5 414L1000.6 566.8L1219.7 739.8M562.4 557.7L781.5 243.2L1000.6 512.7L1219.7 501.8M562.4 633.1L781.5 129.3L1000.6 593.8L1219.7 584.8M562.4 543.3L781.5 357.1L1000.6 526.3L1219.7 546.1M562.4 662.1L781.5 480.4L1000.6 634.3L1219.7 806.2M562.4 699.8L781.5 148.3L1000.6 485.7L1219.7 612.5M562.4 746.2L781.5 480.4L1000.6 620.8L1219.7 706.6M562.4 589.6L781.5 328.6L1000.6 620.8L1219.7 712.1M562.4 731.7L781.5 461.4L1000.6 647.8L1219.7 750.9M562.4 688.2L781.5 214.7L1000.6 499.2L1219.7 673.4M562.4 615.7L781.5 480.4L1000.6 796.5L1219.7 684.4M562.4 580.9L781.5 338.1L1000.6 445.2L1219.7 590.3M562.4 760.6L781.5 584.8L1000.6 661.4L1219.7 773M562.4 604.1L781.5 290.6L1000.6 485.7L1219.7 562.7M562.4 656.3L781.5 423.5L1000.6 593.8L1219.7 723.2M562.4 578L781.5 357.1L1000.6 539.8L1219.7 496.2M562.4 650.5L781.5 470.9L1000.6 593.8L1219.7 773M562.4 502.7L781.5 385.5L1000.6 337.1L1219.7 562.7M562.4 665L781.5 395L1000.6 607.3L1219.7 712.1M562.4 531.7L781.5 271.7L1000.6 512.7L1219.7 673.4M562.4 714.3L781.5 338.1L1000.6 566.8L1219.7 673.4M562.4 694L781.5 338.1L1000.6 485.7L1219.7 457.5M562.4 676.6L781.5 423.5L1000.6 647.8L1219.7 690M562.4 589.6L781.5 433L1000.6 607.3L1219.7 584.8M562.4 749.1L781.5 433L1000.6 593.8L1219.7 745.3M562.4 615.7L781.5 186.2L1000.6 472.2L1219.7 568.2M562.4 708.5L781.5 527.9L1000.6 674.9L1219.7 695.5M562.4 630.2L781.5 395L1000.6 566.8L1219.7 507.3M562.4 615.7L781.5 470.9L1000.6 566.8L1219.7 695.5M562.4 604.1L781.5 461.4L1000.6 647.8L1219.7 678.9M562.4 850.5L781.5 622.8L1000.6 634.3L1219.7 773M562.4 601.2L781.5 480.4L1000.6 607.3L1219.7 623.5M562.4 699.8L781.5 499.4L1000.6 580.3L1219.7 784.1M562.4 650.5L781.5 319.1L1000.6 674.9L1219.7 640.2M562.4 644.7L781.5 328.6L1000.6 607.3L1219.7 507.3M562.4 720.1L781.5 347.6L1000.6 688.4L1219.7 678.9M562.4 737.5L781.5 404.5L1000.6 539.8L1219.7 684.4M562.4 685.3L781.5 376L1000.6 566.8L1219.7 618M562.4 737.5L781.5 470.9L1000.6 647.8L1219.7 629.1M562.4 578L781.5 338.1L1000.6 458.7L1219.7 562.7"/>
<path fill="none" stroke="#48A4E3" stroke-width="2.84" stroke-linecap="round" stroke-linejoin="round" d="M562.4 444.7L781.5 841L1000.6 323.6L1219.7 451.9M562.4 331.7L781.5 546.8L1000.6 66.9L1219.7 186.2M562.4 369.3L781.5 755.6L1000.6 337.1L1219.7 463M562.4 331.7L781.5 651.2L1000.6 229L1219.7 186.2M562.4 401.2L781.5 717.6L1000.6 269.6L1219.7 252.7M562.4 433.1L781.5 812.5L1000.6 337.1L1219.7 440.9M562.4 465L781.5 708.2L1000.6 323.6L1219.7 385.5M562.4 427.3L781.5 641.7L1000.6 215.5L1219.7 297M562.4 525.9L781.5 822L1000.6 350.6L1219.7 474.1M562.4 424.4L781.5 632.2L1000.6 269.6L1219.7 308M562.4 595.4L781.5 793.6L1000.6 283.1L1219.7 418.7M562.4 360.6L781.5 565.8L1000.6 256.1L1219.7 219.5M562.4 462.1L781.5 793.6L1000.6 283.1L1219.7 418.7M562.4 378L781.5 708.2L1000.6 296.6L1219.7 153M562.4 453.4L781.5 708.2L1000.6 337.1L1219.7 518.4M562.4 352L781.5 603.8L1000.6 242.5L1219.7 153M562.4 563.5L781.5 812.5L1000.6 337.1L1219.7 529.4M562.4 354.8L781.5 651.2L1000.6 188.5L1219.7 53.4M562.4 441.8L781.5 717.6L1000.6 350.6L1219.7 385.5M562.4 369.3L781.5 660.7L1000.6 175L1219.7 263.7M562.4 325.9L781.5 736.6L1000.6 229L1219.7 186.2M562.4 473.7L781.5 717.6L1000.6 269.6L1219.7 341.2M562.4 433.1L781.5 717.6L1000.6 296.6L1219.7 474.1M562.4 438.9L781.5 594.3L1000.6 269.6L1219.7 330.2M562.4 537.5L781.5 850.5L1000.6 269.6L1219.7 341.2M562.4 444.7L781.5 660.7L1000.6 269.6L1219.7 319.1M562.4 491.1L781.5 736.6L1000.6 256.1L1219.7 540.5M562.4 395.4L781.5 670.2L1000.6 269.6L1219.7 197.3M562.4 383.8L781.5 736.6L1000.6 337.1L1219.7 429.8M562.4 331.7L781.5 641.7L1000.6 202L1219.7 219.5M562.4 409.9L781.5 641.7L1000.6 175L1219.7 285.9M562.4 540.4L781.5 746.1L1000.6 350.6L1219.7 407.7M562.4 473.7L781.5 717.6L1000.6 377.6L1219.7 330.2M562.4 53.4L781.5 480.4L1000.6 66.9L1219.7 108.8M562.4 357.7L781.5 689.2L1000.6 202L1219.7 308M562.4 378L781.5 546.8L1000.6 202L1219.7 252.7M562.4 546.2L781.5 793.6L1000.6 296.6L1219.7 352.3M562.4 494L781.5 451.9L1000.6 215.5L1219.7 285.9M562.4 505.6L781.5 803.1L1000.6 364.1L1219.7 485.2M562.4 369.3L781.5 603.8L1000.6 364.1L1219.7 263.7M562.4 543.3L781.5 793.6L1000.6 364.1L1219.7 573.7M562.4 343.3L781.5 575.3L1000.6 134.5L1219.7 186.2M562.4 467.9L781.5 793.6L1000.6 337.1L1219.7 496.2M562.4 343.3L781.5 670.2L1000.6 256.1L1219.7 396.6M562.4 317.2L781.5 584.8L1000.6 175L1219.7 219.5M562.4 517.2L781.5 774.6L1000.6 242.5L1219.7 363.4M562.4 462.1L781.5 774.6L1000.6 337.1L1219.7 518.4M562.4 317.2L781.5 584.8L1000.6 134.5L1219.7 252.7M562.4 479.5L781.5 831.5L1000.6 296.6L1219.7 319.1M562.4 470.8L781.5 594.3L1000.6 269.6L1219.7 274.8M562.4 430.2L781.5 746.1L1000.6 337.1L1219.7 374.5M562.4 375.1L781.5 755.6L1000.6 202L1219.7 274.8M562.4 473.7L781.5 727.1L1000.6 337.1L1219.7 474.1M562.4 328.8L781.5 670.2L1000.6 134.5L1219.7 341.2M562.4 433.1L781.5 727.1L1000.6 242.5L1219.7 363.4M562.4 476.6L781.5 632.2L1000.6 202L1219.7 330.2M562.4 511.4L781.5 774.6L1000.6 364.1L1219.7 496.2M562.4 462.1L781.5 670.2L1000.6 202L1219.7 341.2M562.4 528.8L781.5 717.6L1000.6 364.1L1219.7 463M562.4 320.1L781.5 641.7L1000.6 148L1219.7 219.5M562.4 467.9L781.5 784.1L1000.6 364.1L1219.7 518.4M562.4 441.8L781.5 679.7L1000.6 188.5L1219.7 274.8M562.4 456.3L781.5 774.6L1000.6 283.1L1219.7 474.1M562.4 207L781.5 603.8L1000.6 53.4L1219.7 197.3M562.4 453.4L781.5 746.1L1000.6 215.5L1219.7 407.7M562.4 337.5L781.5 499.4L1000.6 66.9L1219.7 186.2M562.4 441.8L781.5 727.1L1000.6 283.1L1219.7 418.7M562.4 346.2L781.5 556.3L1000.6 80.4L1219.7 164.1M562.4 520.1L781.5 746.1L1000.6 202L1219.7 407.7M562.4 311.4L781.5 670.2L1000.6 161.5L1219.7 219.5M562.4 398.3L781.5 670.2L1000.6 256.1L1219.7 396.6M562.4 436L781.5 613.3L1000.6 188.5L1219.7 341.2M562.4 383.8L781.5 613.3L1000.6 188.5L1219.7 319.1M562.4 433.1L781.5 689.2L1000.6 242.5L1219.7 297M562.4 436L781.5 670.2L1000.6 256.1L1219.7 407.7M562.4 372.2L781.5 575.3L1000.6 66.9L1219.7 164.1M562.4 404.1L781.5 746.1L1000.6 350.6L1219.7 429.8M562.4 299.8L781.5 546.8L1000.6 202L1219.7 119.8M562.4 470.8L781.5 784.1L1000.6 269.6L1219.7 396.6M562.4 470.8L781.5 537.4L1000.6 161.5L1219.7 130.9M562.4 357.7L781.5 717.6L1000.6 310.1L1219.7 424.3M562.4 259.2L781.5 613.3L1000.6 188.5L1219.7 241.6M562.4 407L781.5 708.2L1000.6 310.1L1219.7 402.1M562.4 331.7L781.5 584.8L1000.6 148L1219.7 263.7M562.4 479.5L781.5 784.1L1000.6 310.1L1219.7 396.6M562.4 308.5L781.5 451.9L1000.6 93.9L1219.7 208.4M562.4 523L781.5 727.1L1000.6 229L1219.7 429.8M562.4 294L781.5 746.1L1000.6 229L1219.7 274.8M562.4 404.1L781.5 765.1L1000.6 310.1L1219.7 368.9M562.4 270.8L781.5 480.4L1000.6 66.9L1219.7 219.5M562.4 404.1L781.5 670.2L1000.6 229L1219.7 352.3M562.4 267.9L781.5 470.9L1000.6 93.9L1219.7 252.7M562.4 462.1L781.5 717.6L1000.6 310.1L1219.7 396.6M562.4 346.2L781.5 565.8L1000.6 148L1219.7 197.3M562.4 491.1L781.5 698.7L1000.6 283.1L1219.7 374.5M562.4 308.5L781.5 603.8L1000.6 121L1219.7 297M562.4 349.1L781.5 594.3L1000.6 256.1L1219.7 357.8M562.4 421.5L781.5 708.2L1000.6 175L1219.7 368.9M562.4 378L781.5 727.1L1000.6 431.7L1219.7 424.3M562.4 299.8L781.5 527.9L1000.6 134.5L1219.7 285.9M562.4 375.1L781.5 670.2L1000.6 215.5L1219.7 374.5M562.4 160.6L781.5 480.4L1000.6 93.9L1219.7 208.4M562.4 412.8L781.5 622.8L1000.6 269.6L1219.7 346.8M562.4 357.7L781.5 670.2L1000.6 93.9L1219.7 230.5M562.4 409.9L781.5 784.1L1000.6 256.1L1219.7 402.1M562.4 424.4L781.5 565.8L1000.6 269.6L1219.7 230.5M562.4 572.2L781.5 698.7L1000.6 337.1L1219.7 407.7M562.4 233.1L781.5 594.3L1000.6 215.5L1219.7 230.5M562.4 525.9L781.5 765.1L1000.6 364.1L1219.7 435.3M562.4 386.7L781.5 660.7L1000.6 350.6L1219.7 230.5M562.4 317.2L781.5 651.2L1000.6 256.1L1219.7 341.2M562.4 337.5L781.5 584.8L1000.6 80.4L1219.7 130.9M562.4 520.1L781.5 651.2L1000.6 296.6L1219.7 418.7M562.4 288.2L781.5 546.8L1000.6 66.9L1219.7 230.5M562.4 441.8L781.5 755.6L1000.6 242.5L1219.7 479.6M562.4 183.8L781.5 575.3L1000.6 66.9L1219.7 153M562.4 491.1L781.5 603.8L1000.6 242.5L1219.7 368.9M562.4 366.4L781.5 556.3L1000.6 175L1219.7 119.8M562.4 412.8L781.5 793.6L1000.6 283.1L1219.7 357.8M562.4 424.4L781.5 736.6L1000.6 269.6L1219.7 374.5M562.4 320.1L781.5 603.8L1000.6 175L1219.7 175.2M562.4 470.8L781.5 689.2L1000.6 310.1L1219.7 297M562.4 334.6L781.5 565.8L1000.6 296.6L1219.7 252.7"/>
<path fill="none" stroke="#DF900A" stroke-width="2.84" stroke-linecap="round" stroke-linejoin="round" d="M562.4 433.1L781.5 395L1000.6 580.3L1219.7 673.4M562.4 331.7L781.5 243.2L1000.6 526.3L1219.7 584.8M562.4 294L781.5 271.7L1000.6 566.8L1219.7 640.2M562.4 465L781.5 319.1L1000.6 634.3L1219.7 667.8M562.4 253.4L781.5 214.7L1000.6 512.7L1219.7 623.5M562.4 470.8L781.5 404.5L1000.6 499.2L1219.7 573.7M562.4 444.7L781.5 366.5L1000.6 769.4L1219.7 728.7M562.4 294L781.5 366.5L1000.6 512.7L1219.7 618M562.4 447.6L781.5 300.1L1000.6 539.8L1219.7 529.4M562.4 294L781.5 205.2L1000.6 499.2L1219.7 629.1M562.4 430.2L781.5 404.5L1000.6 566.8L1219.7 606.9M562.4 282.4L781.5 167.3L1000.6 553.3L1219.7 612.5M562.4 418.6L781.5 451.9L1000.6 674.9L1219.7 629.1M562.4 273.7L781.5 376L1000.6 458.7L1219.7 551.6M562.4 450.5L781.5 470.9L1000.6 607.3L1219.7 656.8M562.4 317.2L781.5 233.7L1000.6 458.7L1219.7 551.6M562.4 323L781.5 195.7L1000.6 512.7L1219.7 717.6M562.4 99.8L781.5 404.5L1000.6 728.9L1219.7 629.1M562.4 436L781.5 328.6L1000.6 607.3L1219.7 684.4M562.4 354.8L781.5 366.5L1000.6 539.8L1219.7 474.1M562.4 551.9L781.5 451.9L1000.6 728.9L1219.7 651.2M562.4 375.1L781.5 433L1000.6 593.8L1219.7 695.5M562.4 528.8L781.5 518.4L1000.6 647.8L1219.7 806.2M562.4 314.3L781.5 252.7L1000.6 566.8L1219.7 606.9M562.4 427.3L781.5 395L1000.6 539.8L1219.7 717.6M562.4 273.7L781.5 290.6L1000.6 512.7L1219.7 529.4M562.4 317.2L781.5 347.6L1000.6 472.2L1219.7 695.5M562.4 346.2L781.5 290.6L1000.6 472.2L1219.7 606.9M562.4 436L781.5 404.5L1000.6 593.8L1219.7 629.1M562.4 250.5L781.5 195.7L1000.6 404.7L1219.7 440.9M562.4 595.4L781.5 518.4L1000.6 647.8L1219.7 739.8M562.4 209.9L781.5 119.8L1000.6 458.7L1219.7 496.2M562.4 549.1L781.5 508.9L1000.6 647.8L1219.7 706.6M562.4 302.7L781.5 309.6L1000.6 431.7L1219.7 540.5M562.4 340.4L781.5 328.6L1000.6 539.8L1219.7 651.2M562.4 404.1L781.5 499.4L1000.6 485.7L1219.7 584.8M562.4 401.2L781.5 357.1L1000.6 539.8L1219.7 595.9M562.4 273.7L781.5 129.3L1000.6 337.1L1219.7 385.5M562.4 421.5L781.5 518.4L1000.6 580.3L1219.7 850.5M562.4 230.2L781.5 205.2L1000.6 404.7L1219.7 451.9M562.4 360.6L781.5 243.2L1000.6 337.1L1219.7 573.7M562.4 441.8L781.5 433L1000.6 647.8L1219.7 640.2M562.4 305.6L781.5 281.1L1000.6 526.3L1219.7 662.3M562.4 462.1L781.5 480.4L1000.6 526.3L1219.7 673.4M562.4 305.6L781.5 395L1000.6 526.3L1219.7 634.6M562.4 308.5L781.5 338.1L1000.6 458.7L1219.7 463M562.4 328.8L781.5 395L1000.6 607.3L1219.7 695.5M562.4 360.6L781.5 233.7L1000.6 310.1L1219.7 496.2M562.4 288.2L781.5 319.1L1000.6 647.8L1219.7 728.7M562.4 337.5L781.5 451.9L1000.6 499.2L1219.7 634.6M562.4 386.7L781.5 537.4L1000.6 485.7L1219.7 712.1M562.4 291.1L781.5 290.6L1000.6 458.7L1219.7 573.7M562.4 456.3L781.5 451.9L1000.6 566.8L1219.7 651.2M562.4 311.4L781.5 224.2L1000.6 431.7L1219.7 551.6M562.4 549.1L781.5 451.9L1000.6 647.8L1219.7 706.6M562.4 267.9L781.5 309.6L1000.6 512.7L1219.7 684.4M562.4 470.8L781.5 518.4L1000.6 593.8L1219.7 728.7M562.4 352L781.5 205.2L1000.6 431.7L1219.7 551.6M562.4 325.9L781.5 309.6L1000.6 445.2L1219.7 606.9M562.4 459.2L781.5 252.7L1000.6 553.3L1219.7 667.8M562.4 276.6L781.5 243.2L1000.6 391.2L1219.7 573.7M562.4 424.4L781.5 527.9L1000.6 620.8L1219.7 640.2M562.4 456.3L781.5 480.4L1000.6 539.8L1219.7 640.2M562.4 163.5L781.5 214.7L1000.6 377.6L1219.7 562.7M562.4 520.1L781.5 376L1000.6 445.2L1219.7 695.5M562.4 343.3L781.5 366.5L1000.6 566.8L1219.7 612.5M562.4 308.5L781.5 290.6L1000.6 337.1L1219.7 540.5M562.4 325.9L781.5 319.1L1000.6 499.2L1219.7 612.5"/>
<g fill="#fff" stroke="#666" stroke-opacity="0.6" stroke-width="0.9"><rect x="102.3" y="515.9" width="43.8" height="334.6"/><rect x="102.3" y="346.3" width="43.8" height="149.7"/><rect x="102.3" y="53.4" width="43.8" height="273"/><rect x="321.4" y="480.7" width="43.8" height="369.8"/><rect x="321.4" y="187.8" width="43.8" height="273"/><rect x="321.4" y="53.4" width="43.8" height="114.5"/></g>
<g font-family="Liberation Sans, sans-serif" font-size="29.44px" fill="#000" style="font-kerning:none"><rect x="74.5" y="663.8" width="99.4" height="38.9" rx="4.8" fill="#fff" stroke="#000" stroke-width="1.8"/><text x="124.2" y="694.6" text-anchor="middle">Adélie</text><rect x="52.4" y="401.7" width="143.6" height="38.9" rx="4.8" fill="#fff" stroke="#000" stroke-width="1.8"/><text x="124.2" y="432.5" text-anchor="middle">Chinstrap</text><rect x="67.1" y="170.4" width="114.2" height="38.9" rx="4.8" fill="#fff" stroke="#000" stroke-width="1.8"/><text x="124.2" y="201.3" text-anchor="middle">Gentoo</text><rect x="290.3" y="646.1" width="105.9" height="38.9" rx="4.8" fill="#fff" stroke="#000" stroke-width="1.8"/><text x="343.3" y="677" text-anchor="middle">Biscoe</text><rect x="290.3" y="304.8" width="105.9" height="38.9" rx="4.8" fill="#fff" stroke="#000" stroke-width="1.8"/><text x="343.3" y="335.7" text-anchor="middle">Dream</text><rect x="267.4" y="91.2" width="151.8" height="38.9" rx="4.8" fill="#fff" stroke="#000" stroke-width="1.8"/><text x="343.3" y="122" text-anchor="middle">Torgersen</text></g>
<path d="M124.2 889.9V897.9" stroke="#2a2a2a" stroke-width="2.84"/><path d="M343.3 889.9V897.9" stroke="#2a2a2a" stroke-width="2.84"/><path d="M562.4 889.9V897.9" stroke="#2a2a2a" stroke-width="2.84"/><path d="M781.5 889.9V897.9" stroke="#2a2a2a" stroke-width="2.84"/><path d="M1000.6 889.9V897.9" stroke="#2a2a2a" stroke-width="2.84"/><path d="M1219.7 889.9V897.9" stroke="#2a2a2a" stroke-width="2.84"/>
<g font-family="Liberation Sans, sans-serif" font-size="23.47px" fill="#3b3b3b" style="font-kerning:none"><text x="124.2" y="921.6" text-anchor="middle">species</text><text x="343.3" y="921.6" text-anchor="middle">island</text><text x="562.4" y="921.6" text-anchor="middle">bill_length_mm</text><text x="781.5" y="921.6" text-anchor="middle">bill_depth_mm</text><text x="1000.6" y="921.6" text-anchor="middle">flipper_length_mm</text><text x="1219.7" y="921.6" text-anchor="middle">body_mass_g</text></g>
</svg>
</body></html>
